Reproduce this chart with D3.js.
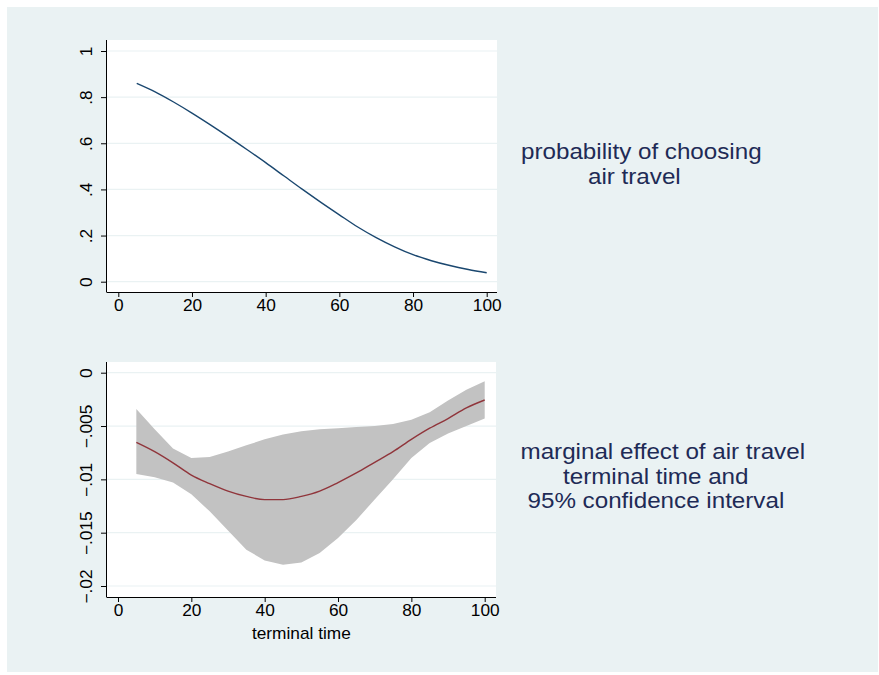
<!DOCTYPE html>
<html>
<head>
<meta charset="utf-8">
<script src="https://cdn.jsdelivr.net/npm/d3@7"></script>
<style>
    body { margin: 0; background: #ffffff; }
    svg { display: block; font-family: "Liberation Sans", Arial, sans-serif; }
    .tick text { fill: #000; }
</style>
</head>
<body>
<div id="chart"></div>
<script>
// terminal time grid used for both panels
const terminalTime = [5, 10, 15, 20, 25, 30, 35, 40, 45, 50, 55, 60, 65, 70, 75, 80, 85, 90, 95, 100];

// probability of choosing air travel
const probAir = [0.860, 0.823, 0.779, 0.731, 0.680, 0.627, 0.572, 0.516, 0.458, 0.400,
    0.344, 0.290, 0.237, 0.191, 0.151, 0.117, 0.091, 0.070, 0.053, 0.039];

// marginal effect and 95% CI
const margEffect = [-0.00653, -0.0074, -0.00845, -0.0096, -0.0104, -0.0111, -0.0116, -0.0119, -0.0119, -0.0116,
    -0.0111, -0.0103, -0.0094, -0.0084, -0.0074, -0.00625, -0.0052, -0.0043, -0.0033, -0.00256];
const ciUpper = [-0.0034, -0.0053, -0.0071, -0.0080, -0.0079, -0.0074, -0.0068, -0.00625, -0.0058, -0.0055,
    -0.0053, -0.0052, -0.0051, -0.0050, -0.0048, -0.0044, -0.0037, -0.0026, -0.0016, -0.0008];
const ciLower = [-0.0095, -0.0098, -0.0103, -0.0114, -0.0130, -0.0148, -0.0166, -0.0176, -0.0180, -0.0178,
    -0.0169, -0.0155, -0.0138, -0.0119, -0.0100, -0.0080, -0.0066, -0.0057, -0.0050, -0.0043];

// tick labels
const timeTicks = [0, 20, 40, 60, 80, 100];
const probTicks = [0, 0.2, 0.4, 0.6, 0.8, 1];
const effectTicks = [0, -0.005, -0.01, -0.015, -0.02];

const topTitle = ["probability of choosing", "air travel"];
const bottomTitle = ["marginal effect of air travel", "terminal time and", "95% confidence interval"];
const xTitle = "terminal time";

// stata style number: drop leading zero, real minus sign
function stataFmt(v) {
    if (v === 0) return "0";
    let s = String(Math.abs(+v.toFixed(4))).replace(/^0\./, ".");
    return (v < 0 ? "\u2212" : "") + s;
}

const W = 879, H = 675;
const svg = d3.select("#chart").append("svg")
    .attr("width", W)
    .attr("height", H);

// outer graph region
svg.append("rect")
    .attr("x", 7).attr("y", 7)
    .attr("width", W - 8).attr("height", H - 10)
    .attr("fill", "#eaf2f3");

function drawPanel(cfg) {
    let g = svg.append("g");

    // plot region
    g.append("rect")
        .attr("x", cfg.left).attr("y", cfg.top)
        .attr("width", cfg.right - cfg.left)
        .attr("height", cfg.bottom - cfg.top)
        .attr("fill", "#ffffff");

    let x = d3.scaleLinear().domain([0, 100]).range(cfg.xRange);
    let y = d3.scaleLinear().domain(cfg.yDomain).range(cfg.yRange);

    // grid lines
    g.selectAll(".grid")
        .data(cfg.yTicks)
        .enter().append("line")
        .attr("class", "grid")
        .attr("x1", cfg.left).attr("x2", cfg.right)
        .attr("y1", d => y(d)).attr("y2", d => y(d))
        .attr("stroke", "#eaf2f3")
        .attr("stroke-width", 1.2);

    if (cfg.band) {
        let area = d3.area()
            .x((d, i) => x(terminalTime[i]))
            .y0((d, i) => y(cfg.band[1][i]))
            .y1((d, i) => y(cfg.band[0][i]));
        g.append("path")
            .datum(terminalTime)
            .attr("d", area)
            .attr("fill", "#c2c2c2");
    }

    let line = d3.line()
        .x((d, i) => x(terminalTime[i]))
        .y(d => y(d))
        .curve(d3.curveMonotoneX);
    g.append("path")
        .datum(cfg.values)
        .attr("d", line)
        .attr("fill", "none")
        .attr("stroke", cfg.color)
        .attr("stroke-width", 1.4);

    // axes
    let xAxis = d3.axisBottom(x).tickValues(timeTicks).tickSize(5).tickPadding(3).tickSizeOuter(0);
    let xg = g.append("g")
        .attr("transform", "translate(0," + cfg.bottom + ")")
        .call(xAxis);
    xg.select(".domain").attr("d", "M" + cfg.left + ",0.5H" + cfg.right);
    xg.selectAll(".tick text")
        .style("font-size", "16px")
        .attr("transform", "translate(0,8) scale(1.08,1) translate(0,-8)");

    let yAxis = d3.axisLeft(y).tickValues(cfg.yTicks).tickFormat(stataFmt).tickSize(6).tickSizeOuter(0);
    let yg = g.append("g")
        .attr("transform", "translate(" + cfg.left + ",0)")
        .call(yAxis);
    yg.select(".domain").attr("d", "M-0.5," + cfg.top + "V" + (cfg.bottom + 0.5));
    yg.selectAll(".tick text")
        .style("font-size", "16px")
        .attr("x", null).attr("dy", null)
        .attr("text-anchor", "middle")
        .attr("transform", "translate(-15,0) rotate(-90) scale(1.08,1)");

    g.selectAll(".tick line, .domain").attr("stroke", "#000");

    // right-hand description
    g.selectAll(".desc")
        .data(cfg.title)
        .enter().append("text")
        .attr("class", "desc")
        .attr("transform", (d, i) => "translate(" + cfg.titleX[i] + "," + (cfg.titleY + i * 24.5) + ") scale(1.1,1)")
        .attr("fill", "#1e2b56")
        .style("font-size", "22px")
        .text(d => d);

    if (cfg.xTitle) {
        g.append("text")
            .attr("transform", "translate(" + ((cfg.xRange[0] + cfg.xRange[1]) / 2) + "," + (cfg.bottom + 42) + ") scale(1.08,1)")
            .attr("text-anchor", "middle")
            .style("font-size", "16px")
            .text(cfg.xTitle);
    }
}

drawPanel({
    left: 107, right: 497, top: 40, bottom: 292,
    xRange: [118.3, 486.7],
    yDomain: [0, 1], yRange: [281.7, 51],
    yTicks: probTicks,
    values: probAir,
    color: "#1a476f",
    title: topTitle, titleX: [521, 588], titleY: 159
});

drawPanel({
    left: 107, right: 496, top: 362, bottom: 597,
    xRange: [118, 484.7],
    yDomain: [-0.02, 0], yRange: [586, 372.7],
    yTicks: effectTicks,
    values: margEffect,
    band: [ciUpper, ciLower],
    color: "#90353b",
    title: bottomTitle, titleX: [520.5, 563, 527.5], titleY: 459,
    xTitle: xTitle
});
</script>
</body>
</html>
